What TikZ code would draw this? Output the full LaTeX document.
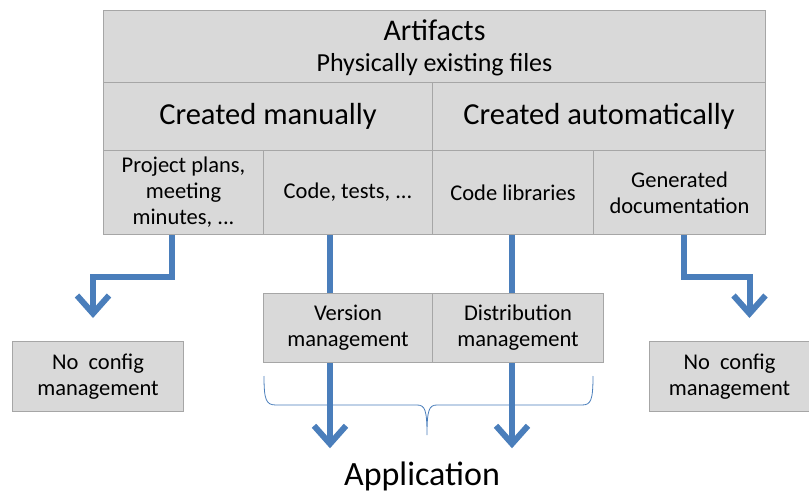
\documentclass[tikz,border=0pt]{standalone}
\usepackage{fontspec}
\setmainfont{Carlito}
\usepackage{tikz}
\usetikzlibrary{arrows.meta,positioning,calc}
\definecolor{cellgray}{RGB}{217,217,217}
\definecolor{edgegray}{RGB}{166,166,166}
\definecolor{flowblue}{RGB}{74,126,187}

\begin{document}
\begin{tikzpicture}[
  x=1pt, y=-1pt,
  cell/.style={draw=edgegray, fill=cellgray, line width=1pt, anchor=north west,
               inner sep=0pt, align=center, font=\fontsize{22.5}{26}\selectfont},
  flow/.style={-{Straight Barb[length=18pt,width=32pt]}, line width=6pt, flowblue},
  brace/.style={flowblue, line width=0.8pt}
]
\useasboundingbox (0,0) rectangle (809,492);

% arrows first, boxes on top
\coordinate (srcA) at (172,234);
\coordinate (srcB) at (330,234);
\coordinate (srcC) at (512,234);
\coordinate (srcD) at (684,234);

\node[cell, minimum width=171pt, minimum height=70pt] (nocfgL) at (12,341)
  {No\ \ config\\management};
\node[cell, minimum width=160pt, minimum height=70pt] (nocfgR) at (649,341)
  {No\ \ config\\management};
\node[font=\fontsize{34}{38}\selectfont, inner sep=0pt] (app) at (422,476) {Application};

\draw[flow] (srcA) -- ++(0,43) -| ($(nocfgL.north)+(-5,-23)$);
\draw[flow] (srcD) -- ++(0,43) -| ($(nocfgR.north)+(20,-23)$);
\draw[flow] (srcB) -- (srcB |- {$(app.north)+(0,-13)$});
\draw[flow] (srcC) -- (srcC |- {$(app.north)+(0,-13)$});

% table of artifacts
\node[cell, minimum width=662pt, minimum height=72pt] (art) at (103,10) {};
\node[font=\fontsize{30}{34}\selectfont] at ($(art.center)+(0,-16)$) {Artifacts};
\node[font=\fontsize{26}{30}\selectfont] at ($(art.center)+(0,18)$) {Physically existing files};
\node[cell, minimum width=329pt, minimum height=68pt, font=\fontsize{30.5}{34}\selectfont]
  (man) at (103,82) {Created manually};
\node[cell, minimum width=333pt, minimum height=68pt, font=\fontsize{30.5}{34}\selectfont]
  (auto) at (432,82) {Created automatically};
\node[cell, minimum width=160pt, minimum height=84pt] (plans) at (103,150)
  {Project plans,\\meeting\\minutes, ...};
\node[cell, minimum width=169pt, minimum height=84pt] (code) at (263,150) {Code, tests, ...};
\node[cell, minimum width=161pt, minimum height=84pt] (libs) at (432,150) {Code libraries};
\node[cell, minimum width=172pt, minimum height=84pt] (gendoc) at (593,150)
  {Generated\\documentation};

% management boxes
\node[cell, minimum width=169pt, minimum height=69pt] (version) at (263,293)
  {Version\\management};
\node[cell, minimum width=171pt, minimum height=69pt] (distrib) at (432,293)
  {Distribution\\management};

% brace
\draw[brace] (264,376) .. controls (264,400) and (266,405) .. (276,405)
  -- (417,405) .. controls (425,405) and (427,410) .. (427,435)
  .. controls (427,410) and (429,405) .. (437,405)
  -- (582,405) .. controls (591,405) and (593,400) .. (593,376);
\end{tikzpicture}
\end{document}
